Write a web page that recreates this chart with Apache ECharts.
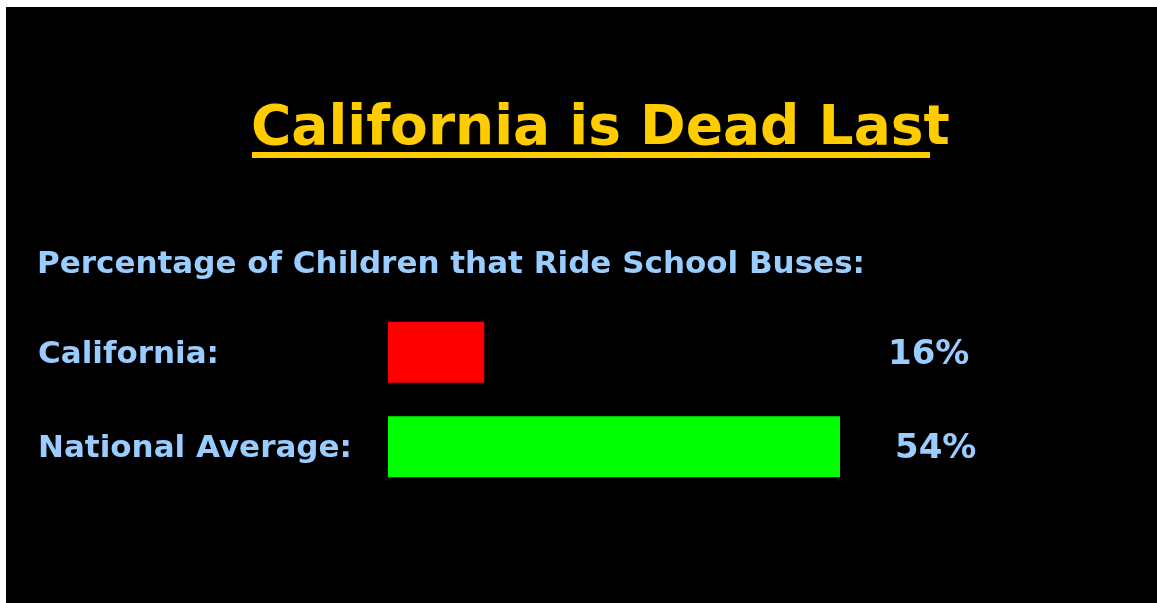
<!DOCTYPE html>
<html>
<head>
<meta charset="utf-8">
<script src="https://cdn.jsdelivr.net/npm/echarts@6/dist/echarts.min.js"></script>
<style>
  html, body { margin: 0; padding: 0; background: #fff; }
  #chart { position: absolute; left: 6px; top: 7px; width: 1151px; height: 596px; background: #000; }
</style>
</head>
<body>
<div id="chart"></div>
<script>
var titleText = 'California is Dead Last';
var subTitle = 'Percentage of Children that Ride School Buses:';
var categories = ['California:', 'National Average:'];
// bar lengths as drawn in the picture (the red bar is drawn shorter than 16/54 of the green one)
var barValues = [11.5, 54];
var valueLabels = ['16%', '54%'];
var barColors = ['#ff0000', '#00ff00'];

var chart = echarts.init(document.getElementById('chart'));

var labelBlue = '#99ccff';
var font = '"DejaVu Sans", Verdana, sans-serif';

var option = {
    backgroundColor: '#000',
    animation: false,
    title: [{
        text: titleText,
        left: 245,
        top: 95,
        padding: 0,
        textStyle: {
            color: '#ffcc00',
            fontFamily: font,
            fontWeight: 'bold',
            fontSize: 55
        }
    }, {
        text: subTitle,
        left: 31,
        top: 242,
        padding: 0,
        textStyle: {
            color: labelBlue,
            fontFamily: font,
            fontWeight: 'bold',
            fontSize: 31
        }
    }],
    graphic: [{
        type: 'rect',
        shape: { x: 246, y: 145, width: 678, height: 6 },
        style: { fill: '#ffcc00' }
    }],
    grid: {
        left: 382,
        top: 298,
        width: 452,
        height: 189
    },
    xAxis: {
        type: 'value',
        min: 0,
        max: 54,
        show: false
    },
    yAxis: [{
        type: 'category',
        data: categories,
        inverse: true,
        axisLine: { show: false },
        axisTick: { show: false },
        axisLabel: {
            align: 'left',
            margin: 350,
            formatter: function (v) {
                return '{c|' + v + '}';
            },
            rich: {
                c: { color: labelBlue, fontFamily: font, fontWeight: 'bold', fontSize: 31, padding: [5, 0, 0, 0] }
            }
        }
    }, {
        type: 'category',
        data: valueLabels,
        inverse: true,
        position: 'right',
        axisLine: { show: false },
        axisTick: { show: false },
        axisLabel: {
            align: 'left',
            margin: 48,
            formatter: function (v, i) {
                return i === 1 ? '{b|' + v + '}' : '{a|' + v + '}';
            },
            rich: {
                a: { color: labelBlue, fontFamily: font, fontWeight: 'bold', fontSize: 34, padding: [5, 0, 0, 0] },
                b: { color: labelBlue, fontFamily: font, fontWeight: 'bold', fontSize: 34, padding: [5, 0, 0, 7] }
            }
        }
    }],
    series: [{
        type: 'bar',
        barWidth: 61,
        data: barValues.map(function (v, i) {
            return { value: v, itemStyle: { color: barColors[i] } };
        })
    }]
};

chart.setOption(option);
</script>
</body>
</html>
